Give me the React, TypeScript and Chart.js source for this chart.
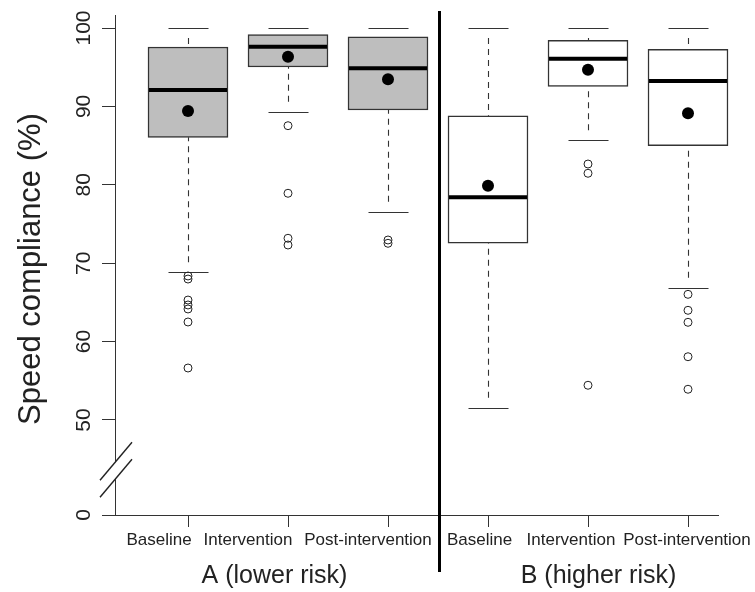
import React, { useEffect, useRef } from 'react';
import { Chart, registerables } from 'chart.js';

Chart.register(...registerables);

// ---------------- data ----------------
const categories = ['Baseline', 'Intervention', 'Post-intervention', 'Baseline', 'Intervention', 'Post-intervention'];
const groupLabels = ['A (lower risk)', 'B (higher risk)'];
const q1 = [86.06, 95.03, 89.54, 72.54, 92.56, 84.99];
const medians = [92.09, 97.61, 94.86, 78.41, 96.08, 93.24];
const q3 = [97.58, 99.15, 98.89, 88.81, 98.43, 97.28];
const means = [89.41, 96.34, 93.46, 79.89, 94.68, 89.12];
const whiskerLow = [68.84, 89.32, 76.57, 51.57, 85.68, 66.88];
const whiskerHigh = [100, 100, 100, 100, 100, 100];
const outliers = [
  [68.37, 67.98, 65.3, 64.67, 64.16, 62.5, 56.63],
  [87.54, 78.92, 73.18, 72.32],
  [72.96, 72.54],
  [],
  [82.65, 81.47, 54.43],
  [66.03, 63.99, 62.46, 58.07, 53.92],
];
const yTickValues = [0, 50, 60, 70, 80, 90, 100];

// ---------------- layout / style ----------------
const FONT = '"Liberation Sans", Arial, Helvetica, sans-serif';
const INK = '#222';
const BOX_FILL = ['#bebebe', '#bebebe', '#bebebe', '#ffffff', '#ffffff', '#ffffff'];
const CAT_LABEL_POS = [0.71, 1.6, 2.8, 3.915, 4.83, 5.99];
const GROUP_LABEL_POS = [1.865, 5.105];
const SEPARATOR_POS = 3.5;

// broken axis: values >= 50 are linear, 0 is compressed just below
const DISPLAY_ZERO = 37.88;
const toDisplay = (v: number) => (v >= 50 ? v : 50 - ((50 - v) * (50 - DISPLAY_ZERO)) / 50);

const extrasPlugin = {
  id: 'boxExtras',
  beforeDatasetsDraw(chart: any) {
    const { ctx, scales } = chart;
    const x = scales.x;
    const y = scales.y;
    ctx.save();
    ctx.strokeStyle = '#333';
    ctx.lineWidth = 1.1;
    categories.forEach((_, i) => {
      const px = Math.round(x.getPixelForValue(i + 1)) + 0.5;
      const yq1 = y.getPixelForValue(toDisplay(q1[i]));
      const yq3 = y.getPixelForValue(toDisplay(q3[i]));
      const ylo = y.getPixelForValue(toDisplay(whiskerLow[i]));
      const yhi = y.getPixelForValue(toDisplay(whiskerHigh[i]));
      const gap = 10;
      ctx.setLineDash([6, 5]);
      if (ylo - gap > yq1) {
        ctx.beginPath();
        ctx.moveTo(px, ylo - gap);
        ctx.lineTo(px, yq1);
        ctx.stroke();
      }
      if (yhi + gap < yq3) {
        ctx.beginPath();
        ctx.moveTo(px, yhi + gap);
        ctx.lineTo(px, yq3);
        ctx.stroke();
      }
      ctx.setLineDash([]);
      const half = 20;
      [ylo, yhi].forEach((yy) => {
        const yr = Math.round(yy) + 0.5;
        ctx.beginPath();
        ctx.moveTo(px - half, yr);
        ctx.lineTo(px + half, yr);
        ctx.stroke();
      });
    });
    ctx.restore();
  },
  afterDatasetDraw(chart: any, args: any) {
    if (args.index !== 0) return;
    const { ctx, scales } = chart;
    const y = scales.y;
    const meta = chart.getDatasetMeta(0);
    ctx.save();
    ctx.strokeStyle = '#000';
    ctx.lineWidth = 4;
    meta.data.forEach((bar: any, i: number) => {
      const p = bar.getProps(['x', 'width'], true);
      const ym = y.getPixelForValue(toDisplay(medians[i]));
      ctx.beginPath();
      ctx.moveTo(p.x - p.width / 2 + 1, ym);
      ctx.lineTo(p.x + p.width / 2 - 1, ym);
      ctx.stroke();
    });
    ctx.restore();
  },
  afterDraw(chart: any) {
    const { ctx, scales, chartArea } = chart;
    const x = scales.x;
    const y = scales.y;
    ctx.save();

    // separator between groups
    const sx = x.getPixelForValue(SEPARATOR_POS) + 1.5;
    ctx.strokeStyle = '#000';
    ctx.lineWidth = 3;
    ctx.beginPath();
    ctx.moveTo(sx, chartArea.top - 4);
    ctx.lineTo(sx, chartArea.bottom + 57);
    ctx.stroke();

    // axis break marks
    const ax = chartArea.left;
    const p0 = y.getPixelForValue(toDisplay(0));
    const p50 = y.getPixelForValue(50);
    const yc = p0 - 0.463 * (p0 - p50);
    const slope = -38 / 32;
    const x1 = ax - 15;
    const x2 = ax + 17;
    const ly = (off: number, xx: number) => yc + off + slope * (xx - ax);
    ctx.fillStyle = '#fff';
    ctx.beginPath();
    ctx.moveTo(x1, ly(-8.5, x1));
    ctx.lineTo(x2, ly(-8.5, x2));
    ctx.lineTo(x2, ly(8.5, x2));
    ctx.lineTo(x1, ly(8.5, x1));
    ctx.closePath();
    ctx.fill();
    ctx.strokeStyle = INK;
    ctx.lineWidth = 1.4;
    [-8.5, 8.5].forEach((off) => {
      ctx.beginPath();
      ctx.moveTo(x1, ly(off, x1));
      ctx.lineTo(x2, ly(off, x2));
      ctx.stroke();
    });

    ctx.fillStyle = INK;
    // y tick labels (rotated)
    ctx.font = `21px ${FONT}`;
    ctx.textAlign = 'center';
    ctx.textBaseline = 'alphabetic';
    yTickValues.forEach((v) => {
      const py = y.getPixelForValue(toDisplay(v));
      ctx.save();
      ctx.translate(chartArea.left - 25, py);
      ctx.rotate(-Math.PI / 2);
      ctx.fillText(String(v), 0, 0);
      ctx.restore();
    });

    // y axis title
    ctx.save();
    ctx.font = `31px ${FONT}`;
    ctx.translate(40, (chartArea.top + chartArea.bottom) / 2 + 4);
    ctx.rotate(-Math.PI / 2);
    ctx.fillText('Speed compliance (%)', 0, 0);
    ctx.restore();

    // category labels
    ctx.font = `17px ${FONT}`;
    categories.forEach((c, i) => {
      ctx.fillText(c, x.getPixelForValue(CAT_LABEL_POS[i]), chartArea.bottom + 30);
    });

    // group labels
    ctx.font = `25px ${FONT}`;
    groupLabels.forEach((g, i) => {
      ctx.fillText(g, x.getPixelForValue(GROUP_LABEL_POS[i]), chartArea.bottom + 68);
    });

    ctx.restore();
  },
};

export default function App() {
  const ref = useRef<HTMLCanvasElement>(null);
  useEffect(() => {
    document.body.style.margin = '0';
    const outlierPoints: { x: number; y: number }[] = [];
    outliers.forEach((list, i) => list.forEach((v) => outlierPoints.push({ x: i + 1, y: toDisplay(v) })));

    const chart = new Chart(ref.current as HTMLCanvasElement, {
      type: 'bar',
      data: {
        datasets: [
          {
            type: 'bar',
            label: 'IQR',
            data: categories.map((_, i) => ({ x: i + 1, y: [toDisplay(q1[i]), toDisplay(q3[i])] })) as any,
            backgroundColor: BOX_FILL,
            borderColor: '#333',
            borderWidth: 1.5,
            borderSkipped: false,
            barThickness: 80,
            grouped: false,
            clip: false,
            order: 3,
          } as any,
          {
            type: 'scatter',
            label: 'Mean',
            data: means.map((m, i) => ({ x: i + 1, y: toDisplay(m) })),
            pointRadius: 6,
            pointBackgroundColor: '#000',
            pointBorderWidth: 0,
            clip: false,
            order: 1,
          } as any,
          {
            type: 'scatter',
            label: 'Outliers',
            data: outlierPoints,
            pointRadius: 4,
            pointBackgroundColor: 'rgba(0,0,0,0)',
            pointBorderColor: '#222',
            pointBorderWidth: 1,
            clip: false,
            order: 2,
          } as any,
        ],
      },
      options: {
        responsive: false,
        animation: false,
        devicePixelRatio: 1,
        events: [],
        layout: { padding: { top: 15, right: 37, left: 0, bottom: 0 } },
        plugins: { legend: { display: false }, tooltip: { enabled: false }, title: { display: false } },
        scales: {
          x: {
            type: 'linear',
            min: 0.27,
            max: 6.3,
            offset: false,
            afterBuildTicks: (s: any) => {
              s.ticks = categories.map((_, i) => ({ value: i + 1 }));
            },
            afterFit: (s: any) => {
              s.height = 77;
            },
            ticks: { display: false },
            grid: { offset: false, drawOnChartArea: false, drawTicks: true, tickLength: 12, color: '#333', tickColor: '#333', lineWidth: 1 },
            border: { display: true, color: '#333', width: 1 },
          },
          y: {
            type: 'linear',
            min: DISPLAY_ZERO,
            max: 101.66,
            afterBuildTicks: (s: any) => {
              s.ticks = yTickValues.map((v) => ({ value: toDisplay(v) }));
            },
            afterFit: (s: any) => {
              s.width = 115;
            },
            ticks: { display: false },
            grid: { drawOnChartArea: false, drawTicks: true, tickLength: 13, color: '#333', tickColor: '#333', lineWidth: 1 },
            border: { display: true, color: '#333', width: 1 },
          },
        },
      } as any,
      plugins: [extrasPlugin],
    });
    return () => chart.destroy();
  }, []);

  return (
    <div style={{ position: 'absolute', left: 0, top: 0, width: 755, height: 592 }}>
      <canvas ref={ref} width={755} height={592} style={{ display: 'block' }} />
    </div>
  );
}
